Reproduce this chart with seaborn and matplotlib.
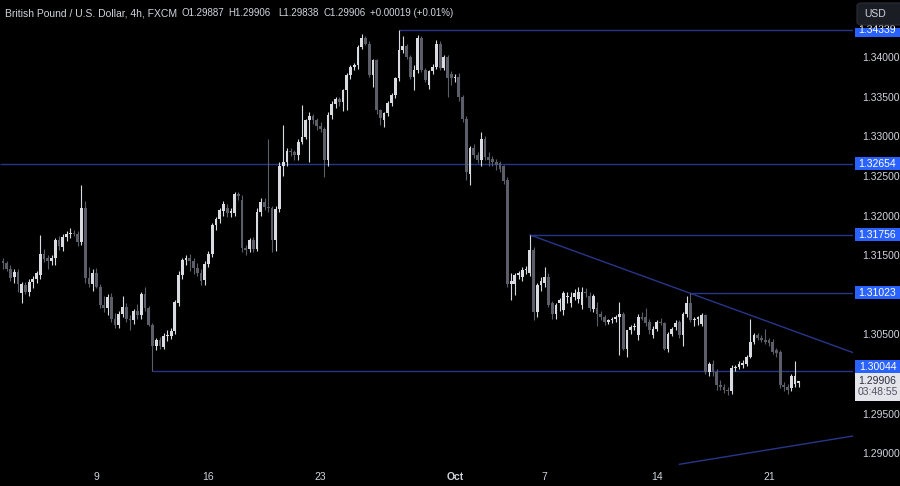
import numpy as np
import pandas as pd
import matplotlib
matplotlib.use("Agg")
import matplotlib.pyplot as plt
import matplotlib.transforms as mtransforms
from matplotlib.patches import Rectangle, FancyBboxPatch
import seaborn as sns

# ---------------- data (GBP/USD, 4h candles, 2 Sep 2024 20:00 -> 22 Oct 2024) ----------------
opens = [
    1.3142, 1.3140, 1.3133, 1.3122, 1.3129, 1.3102, 1.3112, 1.3103, 1.3116, 1.3120,
    1.3125, 1.3152, 1.3146, 1.3143, 1.3146, 1.3169, 1.3160, 1.3173, 1.3177, 1.3178,
    1.3177, 1.3167, 1.3209, 1.3121, 1.3114,
    1.3128, 1.3110, 1.3087, 1.3083, 1.3097, 1.3070, 1.3062, 1.3076, 1.3085, 1.3070,
    1.3068, 1.3079, 1.3074, 1.3101, 1.3083, 1.3062, 1.3036, 1.3043, 1.3034, 1.3048,
    1.3048, 1.3054, 1.3090, 1.3125, 1.3144, 1.3146, 1.3143, 1.3134, 1.3128, 1.3119,
    1.3139, 1.3152, 1.3188, 1.3196, 1.3206, 1.3210, 1.3203, 1.3203, 1.3227, 1.3220,
    1.3159, 1.3158, 1.3169, 1.3158, 1.3204, 1.3217, 1.3211, 1.3209, 1.3169, 1.3208,
    1.3263, 1.3268, 1.3281, 1.3280, 1.3276, 1.3293, 1.3299, 1.3320, 1.3326, 1.3320,
    1.3313, 1.3309, 1.3270, 1.3327, 1.3341, 1.3347, 1.3343, 1.3358, 1.3377, 1.3388,
    1.3390, 1.3413, 1.3424, 1.3417, 1.3377, 1.3396, 1.3333, 1.3320, 1.3329, 1.3342,
    1.3352, 1.3373, 1.3409, 1.3414, 1.3400, 1.3375, 1.3384, 1.3424, 1.3384, 1.3365,
    1.3382, 1.3388, 1.3417, 1.3386, 1.3400, 1.3379, 1.3373, 1.3375, 1.3350, 1.3322,
    1.3253, 1.3285, 1.3276, 1.3270, 1.3297, 1.3274, 1.3271, 1.3268, 1.3266, 1.3262,
    1.3245, 1.3114, 1.3113, 1.3125, 1.3123, 1.3131, 1.3127, 1.3156, 1.3078, 1.3112,
    1.3115, 1.3123, 1.3089, 1.3076, 1.3089, 1.3081, 1.3097, 1.3089, 1.3097, 1.3095,
    1.3087, 1.3104, 1.3099, 1.3082, 1.3083, 1.3076, 1.3072, 1.3066, 1.3068, 1.3069,
    1.3072, 1.3076, 1.3032, 1.3055, 1.3059, 1.3049, 1.3072, 1.3072, 1.3066, 1.3049,
    1.3057, 1.3066, 1.3064, 1.3032, 1.3051, 1.3059, 1.3066, 1.3049, 1.3076, 1.3089,
    1.3068, 1.3070, 1.3063, 1.3074, 1.3003, 1.3013, 1.3003, 1.2986, 1.2984, 1.2980,
    1.2978, 1.3007, 1.3009, 1.3011, 1.3013, 1.3022, 1.3041, 1.3049, 1.3046, 1.3043,
    1.3043, 1.3041, 1.3030, 1.3028, 1.2986, 1.2984, 1.2982, 1.2988, 1.29887,
]
highs = [
    1.3146, 1.3142, 1.3137, 1.3133, 1.3133, 1.3116, 1.3116, 1.3120, 1.3124, 1.3130,
    1.3175, 1.3158, 1.3150, 1.3150, 1.3172, 1.3174, 1.3177, 1.3181, 1.3184, 1.3182,
    1.3180, 1.3238, 1.3218, 1.3135, 1.3132,
    1.3134, 1.3113, 1.3098, 1.3101, 1.3102, 1.3077, 1.3080, 1.3098, 1.3089, 1.3074,
    1.3082, 1.3088, 1.3104, 1.3110, 1.3086, 1.3065, 1.3045, 1.3047, 1.3052, 1.3055,
    1.3058, 1.3093, 1.3130, 1.3146, 1.3150, 1.3152, 1.3147, 1.3140, 1.3132, 1.3142,
    1.3155, 1.3190, 1.3198, 1.3210, 1.3218, 1.3214, 1.3210, 1.3230, 1.3230, 1.3226,
    1.3163, 1.3172, 1.3173, 1.3210, 1.3222, 1.3222, 1.3297, 1.3212, 1.3212, 1.3268,
    1.3314, 1.3285, 1.3285, 1.3283, 1.3296, 1.3340, 1.3322, 1.3330, 1.3328, 1.3323,
    1.3318, 1.3312, 1.3330, 1.3345, 1.3350, 1.3350, 1.3360, 1.3380, 1.3390, 1.3392,
    1.3415, 1.3429, 1.3426, 1.3420, 1.3398, 1.3398, 1.3335, 1.3330, 1.3344, 1.3354,
    1.3375, 1.34339, 1.3426, 1.3416, 1.3403, 1.3390, 1.3428, 1.3427, 1.3386, 1.3384,
    1.3391, 1.3422, 1.3420, 1.3402, 1.3403, 1.3382, 1.3378, 1.3380, 1.3352, 1.3325,
    1.3288, 1.3290, 1.3280, 1.3306, 1.3300, 1.3280, 1.3275, 1.3271, 1.3269, 1.3264,
    1.3248, 1.3127, 1.3128, 1.3130, 1.3135, 1.3136, 1.31756, 1.3160, 1.3115, 1.3122,
    1.3135, 1.3128, 1.3092, 1.3090, 1.3096, 1.3105, 1.3104, 1.3103, 1.3107, 1.3110,
    1.3110, 1.3108, 1.3104, 1.3101, 1.3091, 1.3080, 1.3075, 1.3070, 1.3072, 1.3075,
    1.3091, 1.3078, 1.3055, 1.3062, 1.3064, 1.3076, 1.3078, 1.3083, 1.3069, 1.3060,
    1.3068, 1.3071, 1.3066, 1.3053, 1.3059, 1.3068, 1.3068, 1.3078, 1.3098, 1.31023,
    1.3072, 1.3073, 1.3077, 1.3076, 1.3015, 1.3018, 1.3006, 1.2992, 1.2988, 1.2984,
    1.3011, 1.3012, 1.3016, 1.3018, 1.3024, 1.3070, 1.3052, 1.3052, 1.3049, 1.3057,
    1.3046, 1.3044, 1.3033, 1.3030, 1.2990, 1.2988, 1.3000, 1.3016, 1.29906,
]
lows = [
    1.3133, 1.3130, 1.3117, 1.3115, 1.3104, 1.3089, 1.3101, 1.3098, 1.3108, 1.3115,
    1.3120, 1.3141, 1.3133, 1.3138, 1.3137, 1.3157, 1.3155, 1.3168, 1.3172, 1.3174,
    1.3162, 1.3163, 1.3115, 1.3110, 1.3105,
    1.3108, 1.3083, 1.3078, 1.3075, 1.3066, 1.3058, 1.3058, 1.3072, 1.3066, 1.3055,
    1.3063, 1.3070, 1.3070, 1.3080, 1.3060, 1.30044, 1.3030, 1.3031, 1.3031, 1.3042,
    1.3044, 1.3050, 1.3086, 1.3120, 1.3138, 1.3130, 1.3126, 1.3124, 1.3112, 1.3112,
    1.3135, 1.3148, 1.3182, 1.3190, 1.3200, 1.3198, 1.3198, 1.3200, 1.3220, 1.3154,
    1.3150, 1.3154, 1.3154, 1.3155, 1.3200, 1.3207, 1.3205, 1.3154, 1.3155, 1.3205,
    1.3250, 1.3262, 1.3275, 1.3270, 1.3270, 1.3290, 1.3296, 1.3268, 1.3315, 1.3308,
    1.3305, 1.3249, 1.3262, 1.3322, 1.3336, 1.3338, 1.3332, 1.3333, 1.3372, 1.3383,
    1.3385, 1.3410, 1.3415, 1.3375, 1.3362, 1.3328, 1.3314, 1.3312, 1.3326, 1.3338,
    1.3348, 1.3370, 1.3405, 1.3398, 1.3372, 1.3358, 1.3380, 1.3381, 1.3368, 1.3360,
    1.3378, 1.3385, 1.3383, 1.3383, 1.3350, 1.3365, 1.3368, 1.3345, 1.3318, 1.3245,
    1.3238, 1.3272, 1.3266, 1.3262, 1.3270, 1.3262, 1.3262, 1.3258, 1.3255, 1.3240,
    1.3110, 1.3093, 1.3100, 1.3120, 1.3118, 1.3126, 1.3124, 1.3068, 1.3072, 1.3105,
    1.3110, 1.3085, 1.3070, 1.3070, 1.3080, 1.3075, 1.3090, 1.3085, 1.3094, 1.3090,
    1.3082, 1.3097, 1.3080, 1.3078, 1.3060, 1.3068, 1.3062, 1.3063, 1.3064, 1.3066,
    1.3024, 1.3030, 1.3022, 1.3050, 1.3055, 1.3043, 1.3068, 1.3060, 1.3050, 1.3045,
    1.3054, 1.3062, 1.3030, 1.3028, 1.3048, 1.3056, 1.3045, 1.3036, 1.3072, 1.3066,
    1.3060, 1.3062, 1.3060, 1.3000, 1.2998, 1.2997, 1.2980, 1.2980, 1.2976, 1.2974,
    1.2975, 1.3004, 1.3006, 1.3008, 1.3010, 1.3020, 1.3038, 1.3043, 1.3040, 1.3038,
    1.3036, 1.3025, 1.3022, 1.2982, 1.2978, 1.2975, 1.2978, 1.2984, 1.29838,
]
closes = [
    1.3140, 1.3133, 1.3121, 1.3129, 1.3114, 1.3114, 1.3104, 1.3116, 1.3120, 1.3127,
    1.3152, 1.3145, 1.3142, 1.3147, 1.3169, 1.3161, 1.3173, 1.3177, 1.3178, 1.3177,
    1.3167, 1.3209, 1.3121, 1.3114, 1.3128,
    1.3110, 1.3087, 1.3083, 1.3097, 1.3070, 1.3062, 1.3076, 1.3085, 1.3070, 1.3068,
    1.3079, 1.3074, 1.3101, 1.3083, 1.3062, 1.3036, 1.3043, 1.3035, 1.3048, 1.3049,
    1.3054, 1.3091, 1.3125, 1.3144, 1.3146, 1.3143, 1.3134, 1.3128, 1.3118, 1.3139,
    1.3152, 1.3188, 1.3196, 1.3207, 1.3215, 1.3203, 1.3206, 1.3227, 1.3224, 1.3159,
    1.3157, 1.3169, 1.3158, 1.3204, 1.3217, 1.3211, 1.3209, 1.3169, 1.3208, 1.3263,
    1.3268, 1.3281, 1.3280, 1.3276, 1.3293, 1.3299, 1.3320, 1.3326, 1.3320, 1.3313,
    1.3309, 1.3270, 1.3327, 1.3341, 1.3347, 1.3343, 1.3358, 1.3377, 1.3388, 1.3390,
    1.3413, 1.3424, 1.3417, 1.3377, 1.3396, 1.3333, 1.3323, 1.3329, 1.3342, 1.3352,
    1.3373, 1.3409, 1.3414, 1.3400, 1.3375, 1.3384, 1.3424, 1.3384, 1.3371, 1.3382,
    1.3388, 1.3417, 1.3386, 1.3400, 1.3373, 1.3373, 1.3375, 1.3350, 1.3322, 1.3255,
    1.3285, 1.3276, 1.3270, 1.3297, 1.3274, 1.3270, 1.3268, 1.3264, 1.3259, 1.3243,
    1.3114, 1.3117, 1.3125, 1.3127, 1.3131, 1.3133, 1.3156, 1.3078, 1.3112, 1.3118,
    1.3123, 1.3087, 1.3076, 1.3087, 1.3093, 1.3102, 1.3099, 1.3097, 1.3102, 1.3104,
    1.3104, 1.3102, 1.3083, 1.3099, 1.3076, 1.3072, 1.3066, 1.3068, 1.3069, 1.3072,
    1.3076, 1.3032, 1.3055, 1.3059, 1.3061, 1.3072, 1.3070, 1.3064, 1.3055, 1.3057,
    1.3066, 1.3064, 1.3032, 1.3051, 1.3057, 1.3065, 1.3049, 1.3076, 1.3089, 1.3068,
    1.3070, 1.3072, 1.3074, 1.3003, 1.3013, 1.3003, 1.2986, 1.2984, 1.2980, 1.2978,
    1.3007, 1.3009, 1.3013, 1.3014, 1.3022, 1.3041, 1.3049, 1.3046, 1.3043, 1.3041,
    1.3039, 1.3028, 1.3026, 1.2986, 1.2984, 1.2980, 1.2998, 1.2998, 1.29906,
]

# session calendar (weekdays, six 4h candles per day)
first_day = "2024-09-02"
first_candle_of_range = 5          # data begins with the last 4h candle of 2 Sep

tick_dates = ["2024-09-09", "2024-09-16", "2024-09-23", "2024-10-01",
              "2024-10-07", "2024-10-14", "2024-10-21"]
tick_labels = ["9", "16", "23", "Oct", "7", "14", "21"]

price_ticks = [1.29, 1.295, 1.305, 1.315, 1.32, 1.325, 1.33, 1.335, 1.34]

levels = [1.34339, 1.32654, 1.31756, 1.31023, 1.30044]

down_trend_times = ["2024-10-04 08:00", "2024-10-24 20:00"]
down_trend_prices = [1.31756, 1.30262]
up_trend_times = ["2024-10-15 00:00", "2024-10-24 20:00"]
up_trend_prices = [1.28861, 1.29222]

title_name = "British Pound / U.S. Dollar, 4h, FXCM"
title_values = ["O1.29887", "H1.29906", "L1.29838", "C1.29906", "+0.00019 (+0.01%)"]
countdown = "03:48:55"
currency = "USD"

# ---------------- build frame ----------------
days = pd.bdate_range(first_day, "2024-10-25")
all_times = [d + pd.Timedelta(hours=4 * k) for d in days for k in range(6)]
n = len(closes)
times = all_times[first_candle_of_range:first_candle_of_range + n]
slot = {t: i for i, t in enumerate(all_times)}


def bar_of(ts):
    return slot[pd.Timestamp(ts)] - first_candle_of_range


df = pd.DataFrame({"time": times, "open": opens, "high": highs,
                   "low": lows, "close": closes})
df["bar"] = np.arange(n)
df["up"] = df["close"] >= df["open"]

# ---------------- style ----------------
BG = "#000000"
UP = "#d9dbe0"
DOWN = "#5b5e69"
LINE = "#28368a"
BLUE = "#2962ff"
TXT = "#d1d4dc"

sns.set_theme(style="dark", rc={"axes.facecolor": BG, "figure.facecolor": BG,
                                "axes.grid": False})
plt.rcParams["font.family"] = ["Liberation Sans", "DejaVu Sans"]

W, H = 900, 486
pane_right, pane_bottom = 853, 466
fig = plt.figure(figsize=(W / 100, H / 100), dpi=100, facecolor=BG)
ax = fig.add_axes([0, (H - pane_bottom) / H, pane_right / W, pane_bottom / H])
ax.set_facecolor(BG)
for s in ax.spines.values():
    s.set_visible(False)

x_left, x_right = -0.80, 227.5
y_low, y_high = 1.288397, 1.347192
ppu = pane_bottom / (y_high - y_low)   # pixels per price unit

# ---------------- candles ----------------
colors = np.where(df["up"], UP, DOWN)
ax.vlines(df["bar"], df["low"], df["high"], colors=colors, linewidth=0.8, zorder=3)
body_lo = np.minimum(df["open"], df["close"])
body_h = np.maximum((df["close"] - df["open"]).abs(), 1.0 / ppu)
ax.bar(df["bar"], body_h, bottom=body_lo, width=0.74, color=colors,
       linewidth=0, zorder=4)

# ---------------- horizontal levels ----------------
for lv in levels:
    hit = df.index[(np.isclose(df["high"], lv)) | (np.isclose(df["low"], lv))]
    start = df.loc[hit[0], "bar"] if len(hit) else x_left
    ax.hlines(lv, start, x_right + 5, colors=LINE, linewidth=1.0, zorder=2)

# ---------------- trend lines ----------------
dt = pd.DataFrame({"bar": [bar_of(t) for t in down_trend_times], "price": down_trend_prices})
ut = pd.DataFrame({"bar": [bar_of(t) for t in up_trend_times], "price": up_trend_prices})
sns.lineplot(data=dt, x="bar", y="price", ax=ax, color=LINE, linewidth=1.0,
             legend=False, zorder=2)
sns.lineplot(data=ut, x="bar", y="price", ax=ax, color=LINE, linewidth=1.0,
             legend=False, zorder=2)
ax.set_xlim(x_left, x_right)
ax.set_ylim(y_low, y_high)
ax.set_xlabel("")
ax.set_ylabel("")

# ---------------- axes ticks ----------------
ax.set_xticks([bar_of(d) for d in tick_dates])
ax.set_xticklabels(tick_labels)
for lab, txt in zip(ax.get_xticklabels(), tick_labels):
    if txt == "Oct":
        lab.set_fontweight("bold")
ax.tick_params(axis="x", length=0, pad=4.5, labelsize=7.5, labelcolor=TXT)

ax.yaxis.tick_right()
ax.set_yticks(price_ticks)
ax.set_yticklabels([f"{p:.5f}" for p in price_ticks])
ax.tick_params(axis="y", length=0, pad=6.5, labelsize=7.5, labelcolor=TXT)

# ---------------- price label boxes ----------------
trans = mtransforms.blended_transform_factory(fig.transFigure, ax.transData)
box_x0, box_w = 855 / W, 45 / W
last = closes[-1]
cur_top = last + 8.0 / ppu          # top edge of the current-price box
usd_bottom_px = 27.5                # labels are clipped below the currency button
usd_bottom = y_high - usd_bottom_px / ppu
for lv in levels:
    centre = lv
    if centre - 6.5 / ppu < cur_top and centre > last:
        centre = cur_top + 6.5 / ppu
    top = min(centre + 6.5 / ppu, usd_bottom)
    bot = centre - 6.5 / ppu
    rect = Rectangle((box_x0, bot), box_w, top - bot, transform=trans,
                     facecolor=BLUE, edgecolor="none", clip_on=False, zorder=10)
    ax.add_patch(rect)
    t = ax.text(box_x0 + box_w / 2, centre, f"{lv:.5f}", transform=trans,
                ha="center", va="center", color="white", fontsize=7.5, zorder=11)
    t.set_clip_path(rect)

ax.add_patch(Rectangle((box_x0, last - 19.5 / ppu), box_w, 27.5 / ppu, transform=trans,
                       facecolor="#e3e5eb", edgecolor="none", clip_on=False, zorder=10))
ax.text(box_x0 + box_w / 2, last, f"{last:.5f}", transform=trans, ha="center",
        va="center", color="#2a2e39", fontsize=7.5, clip_on=False, zorder=11)
ax.text(box_x0 + box_w / 2, last - 11 / ppu, countdown, transform=trans, ha="center",
        va="center", color="#50535e", fontsize=7.5, clip_on=False, zorder=11)

# ---------------- header & currency button ----------------
fig.text(5 / W, 1 - 13 / H, title_name, color=TXT, fontsize=7.5, ha="left", va="center")
value_x = [182, 228, 278, 323, 370]
for t, x in zip(title_values, value_x):
    fig.text(x / W, 1 - 13 / H, t, color=TXT, fontsize=7.0, ha="left", va="center")

fig.patches.append(FancyBboxPatch((857 / W, 1 - 25 / H), 48 / W, 22 / H,
                                  boxstyle="round,pad=0,rounding_size=0.006",
                                  transform=fig.transFigure, facecolor="#1a1d24",
                                  edgecolor="#2a2e39", linewidth=0.8))
fig.text(864 / W, 1 - 14 / H, currency, color=TXT, fontsize=7.5, ha="left", va="center")

fig.savefig("out.png", dpi=100, facecolor=BG)
